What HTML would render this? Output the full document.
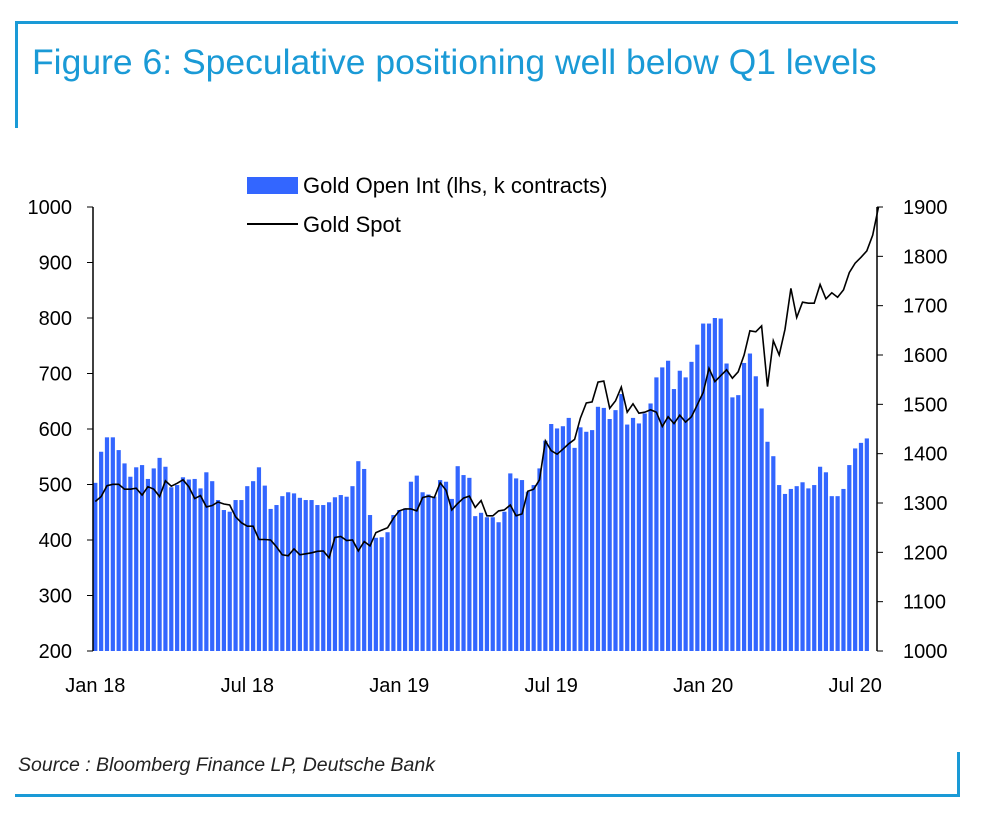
<!DOCTYPE html>
<html><head><meta charset="utf-8"><style>
body{margin:0;background:#fff;width:986px;height:812px;overflow:hidden;font-family:"Liberation Sans",sans-serif}
</style></head><body>
<svg width="986" height="812" xmlns="http://www.w3.org/2000/svg">
<line x1="15" y1="22.5" x2="958" y2="22.5" stroke="#1a9ad6" stroke-width="3"/>
<line x1="16.5" y1="22" x2="16.5" y2="128" stroke="#1a9ad6" stroke-width="3"/>
<text x="32" y="74" font-size="35.5" fill="#1a9ad6">Figure 6: Speculative positioning well below Q1 levels</text>
<line x1="15" y1="795.5" x2="960" y2="795.5" stroke="#1a9ad6" stroke-width="3"/>
<line x1="958.5" y1="752" x2="958.5" y2="796" stroke="#1a9ad6" stroke-width="3"/>
<text x="18" y="771" font-size="19.5" font-style="italic" fill="#222">Source : Bloomberg Finance LP, Deutsche Bank</text>
<rect x="247" y="177" width="51" height="17" fill="#3366ff"/>
<text x="303" y="193" font-size="22" fill="#000">Gold Open Int (lhs, k contracts)</text>
<line x1="247" y1="224" x2="298" y2="224" stroke="#000" stroke-width="2"/>
<text x="303" y="232" font-size="22" fill="#000">Gold Spot</text>
<g id="bars"></g>
<polyline id="spot" fill="none" stroke="#000" stroke-width="1.6"/>
<g id="axes"></g>
</svg>
<script>
const openInt=[503,559,585,585,562,538,514,531,535,510,529,548,532,495,499,513,509,510,493,522,506,472,454,451,472,472,497,506,531,498,456,463,479,486,484,476,472,472,463,463,468,477,481,478,497,542,528,445,404,405,414,445,454,457,505,516,486,482,478,508,505,474,533,517,512,443,449,441,441,432,451,520,511,508,487,499,529,579,609,601,605,620,566,603,595,598,640,638,618,634,663,608,620,610,628,646,693,711,723,672,705,693,721,752,790,790,800,799,718,657,661,719,736,695,637,577,551,499,483,492,497,504,493,499,532,522,479,479,492,535,565,575,583];
const goldSpot=[1303,1313,1335,1338,1338,1328,1328,1330,1316,1333,1328,1313,1345,1334,1340,1347,1333,1309,1315,1292,1295,1302,1298,1296,1272,1260,1253,1253,1226,1226,1225,1211,1195,1193,1207,1195,1197,1199,1202,1203,1189,1230,1232,1224,1225,1203,1222,1213,1240,1245,1250,1269,1284,1288,1288,1284,1311,1314,1311,1341,1326,1286,1299,1310,1314,1291,1305,1274,1274,1284,1286,1296,1274,1278,1324,1328,1347,1426,1406,1399,1409,1420,1429,1472,1503,1505,1545,1547,1492,1507,1535,1484,1501,1482,1484,1489,1484,1455,1475,1461,1478,1464,1475,1499,1524,1573,1546,1558,1570,1553,1566,1600,1649,1647,1659,1536,1629,1600,1652,1735,1676,1707,1705,1705,1743,1714,1726,1717,1732,1767,1786,1798,1811,1843,1900];
const leftTicks=[200,300,400,500,600,700,800,900,1000];
const rightTicks=[1000,1100,1200,1300,1400,1500,1600,1700,1800,1900];
const xLabels=["Jan 18","Jul 18","Jan 19","Jul 19","Jan 20","Jul 20"];
const xLabelIdx=[0,26,52,78,104,130];
(function(){
const NS="http://www.w3.org/2000/svg";
const plotTop=207,plotBot=651,x0=95.3,step=5.845;
const xs=i=>x0+i*step;
const yL=v=>plotBot-(v-200)/800*(plotBot-plotTop);
const yR=v=>plotBot-(v-1000)/900*(plotBot-plotTop);
const bars=document.getElementById('bars');
openInt.forEach((v,i)=>{const r=document.createElementNS(NS,'rect');
r.setAttribute('x',xs(i)-2.1);r.setAttribute('y',yL(v));r.setAttribute('width',4.2);r.setAttribute('height',plotBot-yL(v));r.setAttribute('fill','#3366ff');


bars.appendChild(r);});
document.getElementById('spot').setAttribute('points',goldSpot.map((v,i)=>xs(i).toFixed(1)+','+yR(v).toFixed(1)).join(' '));
const ax=document.getElementById('axes');
function add(tag,attrs,text,name){const e=document.createElementNS(NS,tag);for(const k in attrs)e.setAttribute(k,attrs[k]);if(text!==undefined)e.textContent=text;


ax.appendChild(e);return e;}
add('line',{x1:93,y1:plotTop,x2:93,y2:plotBot,stroke:'#000','stroke-width':1.5},undefined,'y-axis-left');
add('line',{x1:877,y1:plotTop,x2:877,y2:plotBot,stroke:'#000','stroke-width':1.5},undefined,'y-axis-right');
leftTicks.forEach(v=>{const y=yL(v);add('line',{x1:87,y1:y,x2:93,y2:y,stroke:'#000'},undefined,'y-tick-left');
add('text',{x:72,y:y+7,'font-size':20,'text-anchor':'end'},v,'y-tick-label-left');});
rightTicks.forEach(v=>{const y=yR(v);add('line',{x1:877,y1:y,x2:883,y2:y,stroke:'#000'},undefined,'y-tick-right');
add('text',{x:903,y:y+7,'font-size':20},v,'y-tick-label-right');});
xLabels.forEach((t,i)=>{add('text',{x:xs(xLabelIdx[i]),y:692,'font-size':20,'text-anchor':'middle'},t,'x-tick-label');});
})();
</script>
</body></html>
